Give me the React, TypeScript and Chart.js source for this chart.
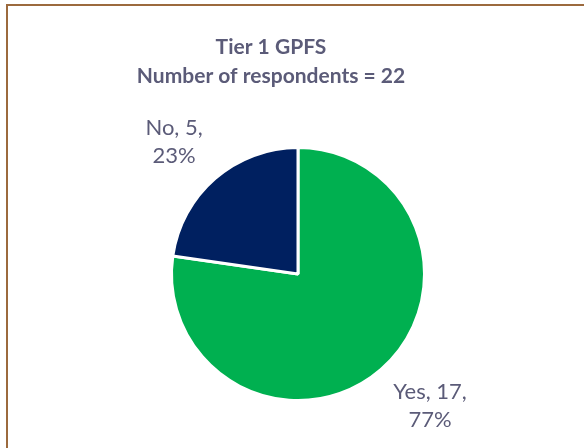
import React, { useEffect, useRef } from "react";
import { Chart, registerables } from "chart.js";

Chart.register(...registerables);

const categories = ["Yes", "No"];
const counts = [17, 5];
const sliceColors = ["#00B050", "#002060"];
const titleLines = ["Tier 1 GPFS", "Number of respondents = 22"];

const TEXT_COLOR = "#5B5B78";
const FONT = "Lato, 'Open Sans', sans-serif";

const titlePlugin = {
  id: "customTitle",
  afterDraw(chart: any) {
    const ctx = chart.ctx;
    ctx.save();
    ctx.fillStyle = TEXT_COLOR;
    ctx.font = `bold 21px ${FONT}`;
    ctx.textAlign = "center";
    ctx.textBaseline = "middle";
    const x = 271;
    titleLines.forEach((line, i) => {
      ctx.fillText(line, x, 47 + i * 29);
    });
    ctx.restore();
  },
};

const labelPlugin = {
  id: "outsideLabels",
  afterDatasetsDraw(chart: any) {
    const ctx = chart.ctx;
    const meta = chart.getDatasetMeta(0);
    const total = counts.reduce((a, b) => a + b, 0);
    ctx.save();
    ctx.fillStyle = TEXT_COLOR;
    ctx.font = `22px ${FONT}`;
    ctx.textAlign = "center";
    ctx.textBaseline = "middle";
    meta.data.forEach((arc: any, i: number) => {
      const p = arc.getProps(["x", "y", "startAngle", "endAngle", "outerRadius"], true);
      const mid = (p.startAngle + p.endAngle) / 2;
      const pct = Math.round((counts[i] / total) * 100);
      const lines = [`${categories[i]}, ${counts[i]},`, `${pct}%`];
      const halfW = Math.max(...lines.map((l) => ctx.measureText(l).width)) / 2;
      const cosA = Math.cos(mid);
      const sinA = Math.sin(mid);
      const cx = p.x + cosA * p.outerRadius * 1.15 + Math.sign(cosA) * halfW;
      const cy = p.y + sinA * p.outerRadius * 1.38;
      const lh = 28;
      lines.forEach((l, j) => {
        ctx.fillText(l, cx, cy + (j - (lines.length - 1) / 2) * lh);
      });
    });
    ctx.restore();
  },
};

export default function App() {
  const ref = useRef<HTMLCanvasElement>(null);
  useEffect(() => {
    document.body.style.margin = "0";
    const chart = new Chart(ref.current!, {
      type: "pie",
      data: {
        labels: categories,
        datasets: [
          {
            data: counts,
            backgroundColor: sliceColors,
            borderColor: "#FFFFFF",
            borderWidth: 3,
          },
        ],
      },
      options: {
        responsive: false,
        animation: false,
        layout: { padding: { left: 170, right: 158, top: 146, bottom: 46 } },
        plugins: {
          legend: { display: false },
          title: { display: false },
          tooltip: { enabled: false },
        },
      },
      plugins: [titlePlugin, labelPlugin],
    });
    return () => chart.destroy();
  }, []);
  return (
    <div style={{ position: "absolute", left: 0, top: 0, width: 584, height: 448, background: "#fff", overflow: "hidden" }}>
      <canvas ref={ref} width={584} height={448} style={{ position: "absolute", left: 0, top: 0 }} />
      <div
        style={{
          position: "absolute",
          left: 6,
          top: 4,
          width: 600,
          height: 460,
          borderTop: "2px solid #9C6A3E",
          borderLeft: "2px solid #9C6A3E",
          pointerEvents: "none",
        }}
      />
    </div>
  );
}
